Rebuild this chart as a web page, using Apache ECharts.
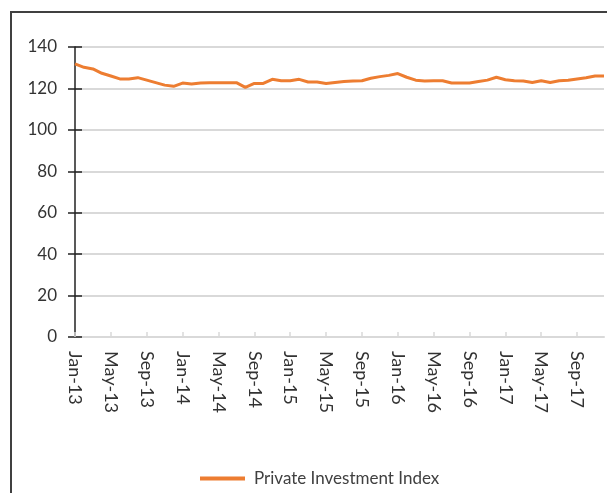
<!DOCTYPE html>
<html>
<head>
<meta charset="utf-8">
<script src="https://cdn.jsdelivr.net/npm/echarts@6/dist/echarts.min.js"></script>
<style>
  html, body { margin: 0; padding: 0; background: #fff; }
  #main { width: 607px; height: 493px; }
</style>
</head>
<body>
<div id="main"></div>
<script>
// monthly labels, Jan-13 .. Dec-17
const months = [
  "Jan-13","Feb-13","Mar-13","Apr-13","May-13","Jun-13","Jul-13","Aug-13","Sep-13","Oct-13","Nov-13","Dec-13",
  "Jan-14","Feb-14","Mar-14","Apr-14","May-14","Jun-14","Jul-14","Aug-14","Sep-14","Oct-14","Nov-14","Dec-14",
  "Jan-15","Feb-15","Mar-15","Apr-15","May-15","Jun-15","Jul-15","Aug-15","Sep-15","Oct-15","Nov-15","Dec-15",
  "Jan-16","Feb-16","Mar-16","Apr-16","May-16","Jun-16","Jul-16","Aug-16","Sep-16","Oct-16","Nov-16","Dec-16",
  "Jan-17","Feb-17","Mar-17","Apr-17","May-17","Jun-17","Jul-17","Aug-17","Sep-17","Oct-17","Nov-17","Dec-17"
];

const seriesName = "Private Investment Index";

const investIndex = [
  131.9, 130.2, 129.4, 127.3, 126.0, 124.6, 124.6, 125.2, 124.0, 122.8, 121.6, 121.0,
  122.6, 122.1, 122.6, 122.8, 122.8, 122.8, 122.8, 120.5, 122.4, 122.4, 124.4, 123.7,
  123.7, 124.4, 123.1, 123.1, 122.4, 122.9, 123.3, 123.6, 123.7, 124.9, 125.7, 126.3,
  127.2, 125.4, 124.0, 123.6, 123.7, 123.7, 122.6, 122.6, 122.6, 123.3, 124.0, 125.4,
  124.2, 123.7, 123.6, 122.9, 123.7, 122.9, 123.7, 123.9, 124.6, 125.2, 126.0, 126.0
];

const yTicks = { min: 0, max: 140, step: 20 };

const chart = echarts.init(document.getElementById("main"));

const tickColor = "#222";

const option = {
  animation: false,
  textStyle: { fontFamily: "Lato" },
  graphic: [
    {
      type: "rect",
      shape: { x: 11, y: 12, width: 800, height: 800 },
      style: { fill: "none", stroke: "#404040", lineWidth: 2 },
      silent: true
    }
  ],
  grid: { left: 75, right: 3, top: 47, bottom: 156, containLabel: false },
  legend: {
    left: 195,
    top: 465,
    icon: "rect",
    itemWidth: 45,
    itemHeight: 4,
    textStyle: { fontSize: 17, color: "#404040", fontFamily: "Lato", padding: [0, 0, 0, 4] },
    data: [seriesName]
  },
  xAxis: {
    type: "category",
    data: months,
    boundaryGap: false,
    axisLine: { lineStyle: { color: "#d9d9d9", width: 2 } },
    axisTick: { show: true, inside: true, length: 5, interval: 3, lineStyle: { color: "#d9d9d9", width: 1.5 } },
    axisLabel: { interval: 3, rotate: -90, margin: 14, fontSize: 18, color: "#333" },
    splitLine: { show: false }
  },
  yAxis: [
    {
      type: "value",
      min: yTicks.min,
      max: yTicks.max,
      interval: yTicks.step,
      axisLine: { show: true, lineStyle: { color: tickColor, width: 1.5 } },
      axisTick: { show: true, length: 7, lineStyle: { color: tickColor, width: 1.5 } },
      axisLabel: { margin: 18, fontSize: 17, color: "#333" },
      splitLine: { lineStyle: { color: "#d9d9d9", width: 2 } }
    },
    {
      // same scale, only to draw the inner half of the cross ticks
      type: "value",
      position: "left",
      min: yTicks.min,
      max: yTicks.max,
      interval: yTicks.step,
      axisLine: { show: false },
      axisTick: { show: true, inside: true, length: 7, lineStyle: { color: tickColor, width: 1.5 } },
      axisLabel: { show: false },
      splitLine: { show: false }
    }
  ],
  series: [
    {
      name: seriesName,
      type: "line",
      data: investIndex,
      showSymbol: false,
      symbol: "none",
      z: 3,
      lineStyle: { color: "#ed7d31", width: 3 },
      itemStyle: { color: "#ed7d31" }
    }
  ]
};

chart.setOption(option);
</script>
</body>
</html>
